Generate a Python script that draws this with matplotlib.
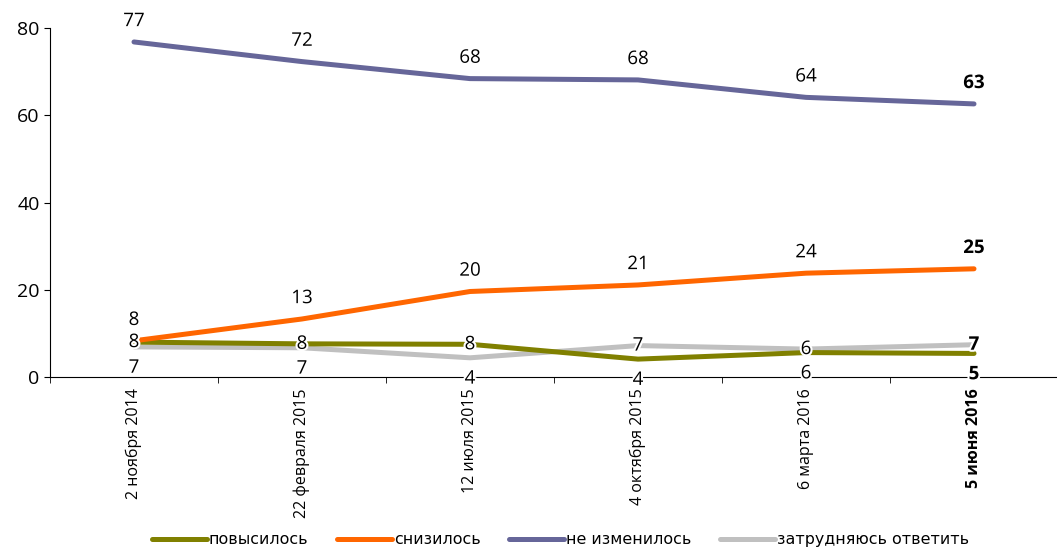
import numpy as np
import matplotlib.pyplot as plt
import matplotlib.patheffects as pe

plt.rcParams['font.family'] = ['Open Sans', 'DejaVu Sans']

dates = ['2 ноября 2014', '22 февраля 2015', '12 июля 2015',
         '4 октября 2015', '6 марта 2016', '5 июня 2016']
povysilos = [8.0, 7.6, 7.5, 4.1, 5.6, 5.4]
snizilos = [8.3, 13.3, 19.6, 21.1, 23.8, 24.8]
ne_izmenilos = [76.8, 72.3, 68.4, 68.1, 64.1, 62.6]
zatrudnyayus = [6.9, 6.7, 4.4, 7.2, 6.4, 7.4]

# где ставить подписи: выше / ниже / по центру точки
pos_povys = ['c', 'c', 'c', 'b', 'b', 'b']
pos_sniz = ['a'] * 6
pos_neizm = ['a'] * 6
pos_zatr = ['b', 'b', 'b', 'c', 'c', 'c']

series = [
    ('повысилось', povysilos, '#808000', pos_povys),
    ('снизилось', snizilos, '#FF6600', pos_sniz),
    ('не изменилось', ne_izmenilos, '#666699', pos_neizm),
    ('затрудняюсь ответить', zatrudnyayus, '#C0C0C0', pos_zatr),
]

fig = plt.figure(figsize=(10.57, 5.52), dpi=100)
ax = fig.add_axes([50 / 1057, 175 / 552, 1008 / 1057, 349 / 552])
x = np.arange(len(dates))

# серый рисуем первым, чтобы он был под остальными
for name, vals, col, _ in [series[3], series[0], series[1], series[2]]:
    ax.plot(x, vals, color=col, lw=3.6, solid_capstyle='round', label=name)

halo = [pe.withStroke(linewidth=3, foreground='white')]
offs = {'a': 15, 'b': -15, 'c': 0}
for name, vals, col, where in series:
    for i, v in enumerate(vals):
        ax.annotate(f'{v:.0f}', (x[i], v), xytext=(0, offs[where[i]]),
                    textcoords='offset points', ha='center', va='center',
                    fontsize=13.5, fontweight='bold' if i == len(vals) - 1 else 'normal',
                    path_effects=halo, zorder=5)

ax.set_xlim(-0.5, len(dates) - 0.5)
ax.set_ylim(0, 80)
ax.set_yticks([0, 20, 40, 60, 80])
ax.tick_params(axis='y', labelsize=14, length=4, direction='out')
ax.set_xticks(x)
ax.set_xticklabels(dates, rotation=90, fontsize=11.5)
ax.get_xticklabels()[-1].set_fontweight('bold')
ax.tick_params(axis='x', length=0, pad=8)
ax.set_xticks(np.arange(-0.5, len(dates), 1), minor=True)
ax.tick_params(axis='x', which='minor', length=4, direction='out')
for s in ['top', 'right']:
    ax.spines[s].set_visible(False)

h, l = ax.get_legend_handles_labels()
order = [1, 2, 3, 0]
fig.legend([h[k] for k in order], [l[k] for k in order], loc='center',
           bbox_to_anchor=(0.53, 0.022), ncol=4, frameon=False,
           prop={'family': 'DejaVu Sans', 'size': 11.4},
           handlelength=3.5, handletextpad=0.1, columnspacing=1.8)

fig.savefig('out.png', dpi=100)
